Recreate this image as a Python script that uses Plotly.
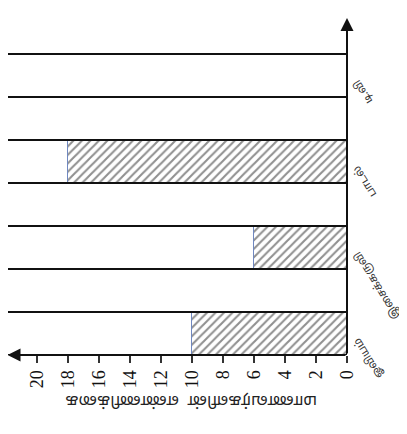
import plotly.graph_objects as go

categories = ["ஓவியம்", "இசைக்கருவி", "பாடல்", "டி.வி"]
values = [10, 6, 18, 0]
frame_values = [30, 30, 30, 30]
x_ticks = list(range(0, 21, 2))
value_title = "மாணவர்களின்  எண்ணிக்கை"

tamil_font = "Noto Sans Tamil, Lohit Tamil, Noto Serif Tamil, Noto Sans, sans-serif"
serif = "Liberation Serif, Times New Roman, serif"

fig = go.Figure()

# hatched bars (drawn first)
fig.add_trace(go.Bar(
    y=list(range(len(categories))), x=values, orientation="h", width=0.5,
    marker=dict(color="white",
                pattern=dict(shape="/", fgcolor="#222222", bgcolor="white", size=6, solidity=0.35),
                line=dict(color="#7088c0", width=1)),
    hoverinfo="skip", showlegend=False,
))
# open frames for every category
fig.add_trace(go.Bar(
    y=list(range(len(categories))), x=frame_values, orientation="h", width=0.5,
    marker=dict(color="rgba(0,0,0,0)", line=dict(color="#111111", width=2)),
    hoverinfo="skip", showlegend=False,
))

annotations = []
# category labels, upside-down and slanted
for i, c in enumerate(categories):
    annotations.append(dict(
        x=1, xref="paper", y=i, yref="y", text=c, showarrow=False,
        xanchor="left", yanchor="top", textangle=-122, xshift=1, yshift=1,
        font=dict(family=tamil_font, size=11, color="#333333"),
    ))
# axis title upside down
annotations.append(dict(
    x=0.54, xref="paper", y=-0.165, yref="paper", text=value_title, showarrow=False,
    textangle=180, font=dict(family=tamil_font, size=16, color="#222222"),
))
# axes with arrows
annotations.append(dict(
    x=21.9, y=-0.25, xref="x", yref="y", ax=0, ay=-0.25, axref="x", ayref="y",
    text="", showarrow=True, arrowhead=2, arrowsize=1.3, arrowwidth=2, arrowcolor="#111111",
))
annotations.append(dict(
    x=0, y=3.67, xref="x", yref="y", ax=0, ay=-0.25, axref="x", ayref="y",
    text="", showarrow=True, arrowhead=2, arrowsize=1.3, arrowwidth=2, arrowcolor="#111111",
))

fig.update_layout(
    width=407, height=434,
    margin=dict(l=0, r=68, t=3, b=87),
    paper_bgcolor="white", plot_bgcolor="white",
    barmode="overlay", bargap=0,
    annotations=annotations,
    xaxis=dict(
        range=[21.87, 0], tickvals=x_ticks, ticktext=[str(v) for v in x_ticks],
        tickangle=-90, ticks="outside", ticklen=7, tickwidth=1.5, tickcolor="#333333",
        showgrid=False, zeroline=False, showline=False,
        tickfont=dict(family=serif, size=18, color="#111111"),
    ),
    yaxis=dict(
        range=[-0.25, 3.75], side="right", showticklabels=False, ticks="",
        showgrid=False, zeroline=False, showline=False,
    ),
)

fig.write_html("out.html")
